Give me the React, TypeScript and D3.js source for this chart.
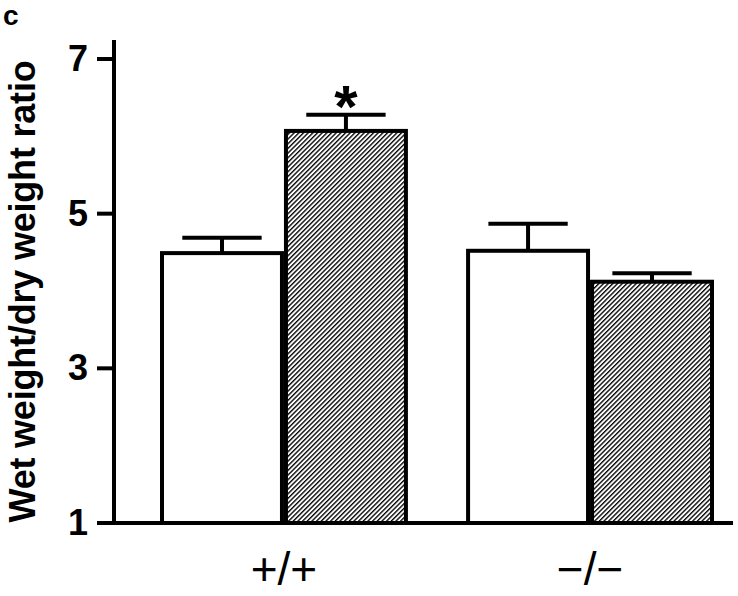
import React from 'react';
import * as d3 from 'd3';

const WIDTH = 738;
const HEIGHT = 596;

const groups = ['+/+', '\u2212/\u2212'];
const series = ['control', 'treated'];
// mean values, [group][series]
const means = [
  [4.49, 6.07],
  [4.52, 4.12],
];
const errors = [
  [0.2, 0.21],
  [0.35, 0.11],
];
const yTicks = [1, 3, 5, 7];
const significant = [
  [false, true],
  [false, false],
];

const FONT = '"Liberation Sans", Arial, Helvetica, sans-serif';

export default function App() {
  const y = d3.scaleLinear().domain([1, 7]).range([523, 59]);
  const x0 = d3.scaleBand<string>().domain(groups).range([160, 714]).paddingInner(0.19).paddingOuter(0);
  const x1 = d3.scaleBand<string>().domain(series).range([0, x0.bandwidth()]).padding(0);
  const bw = x1.bandwidth();
  const capHalf = bw * 0.32;
  const axisX = 114;

  return (
    <svg
      width={WIDTH}
      height={HEIGHT}
      style={{ position: 'absolute', left: 0, top: 0, background: '#fff' }}
      fontFamily={FONT}
    >
      <defs>
        <pattern id="hatch" patternUnits="userSpaceOnUse" width={3.3} height={3.3} patternTransform="rotate(45)">
          <rect width={3.3} height={3.3} fill="#fff" />
          <line x1={0.7} y1={0} x2={0.7} y2={3.3} stroke="#000" strokeWidth={1.35} />
        </pattern>
      </defs>

      <text x={3} y={25} fontSize={28} fontWeight="bold">c</text>

      <text
        transform={`translate(35,${(50 + 533) / 2}) rotate(-90)`}
        textAnchor="middle"
        fontSize={36}
        fontWeight="bold"
        letterSpacing={-0.2}
      >
        Wet weight/dry weight ratio
      </text>

      {/* y axis */}
      <line x1={axisX} x2={axisX} y1={40} y2={y(1) + 2} stroke="#000" strokeWidth={4} />
      {yTicks.map((t) => (
        <g key={t}>
          <line x1={97} x2={axisX} y1={y(t)} y2={y(t)} stroke="#000" strokeWidth={4} />
          <text x={88} y={y(t)} dy={12} textAnchor="end" fontSize={36} fontWeight="bold">
            {t}
          </text>
        </g>
      ))}

      {/* baseline */}
      <line x1={97} x2={733} y1={y(1)} y2={y(1)} stroke="#000" strokeWidth={4} />

      {groups.map((g, gi) => (
        <g key={g} transform={`translate(${x0(g)},0)`}>
          {series.map((s, si) => {
            const bx = x1(s)!;
            const v = means[gi][si];
            const e = errors[gi][si];
            const cx = bx + bw / 2;
            return (
              <g key={s}>
                <line x1={cx} x2={cx} y1={y(v)} y2={y(v + e)} stroke="#000" strokeWidth={4} />
                <line x1={cx - capHalf} x2={cx + capHalf} y1={y(v + e)} y2={y(v + e)} stroke="#000" strokeWidth={4} />
                <rect
                  x={bx + 2}
                  y={y(v)}
                  width={bw - 4}
                  height={y(1) - y(v)}
                  fill={si === 1 ? 'url(#hatch)' : '#fff'}
                  stroke="#000"
                  strokeWidth={4}
                />
                {significant[gi][si] ? (
                  <text x={cx} y={y(v + e) + 12} textAnchor="middle" fontSize={60} fontWeight="bold">
                    *
                  </text>
                ) : null}
              </g>
            );
          })}
          <text x={x0.bandwidth() / 2} y={585} textAnchor="middle" fontSize={46}>
            {g}
          </text>
        </g>
      ))}
    </svg>
  );
}
